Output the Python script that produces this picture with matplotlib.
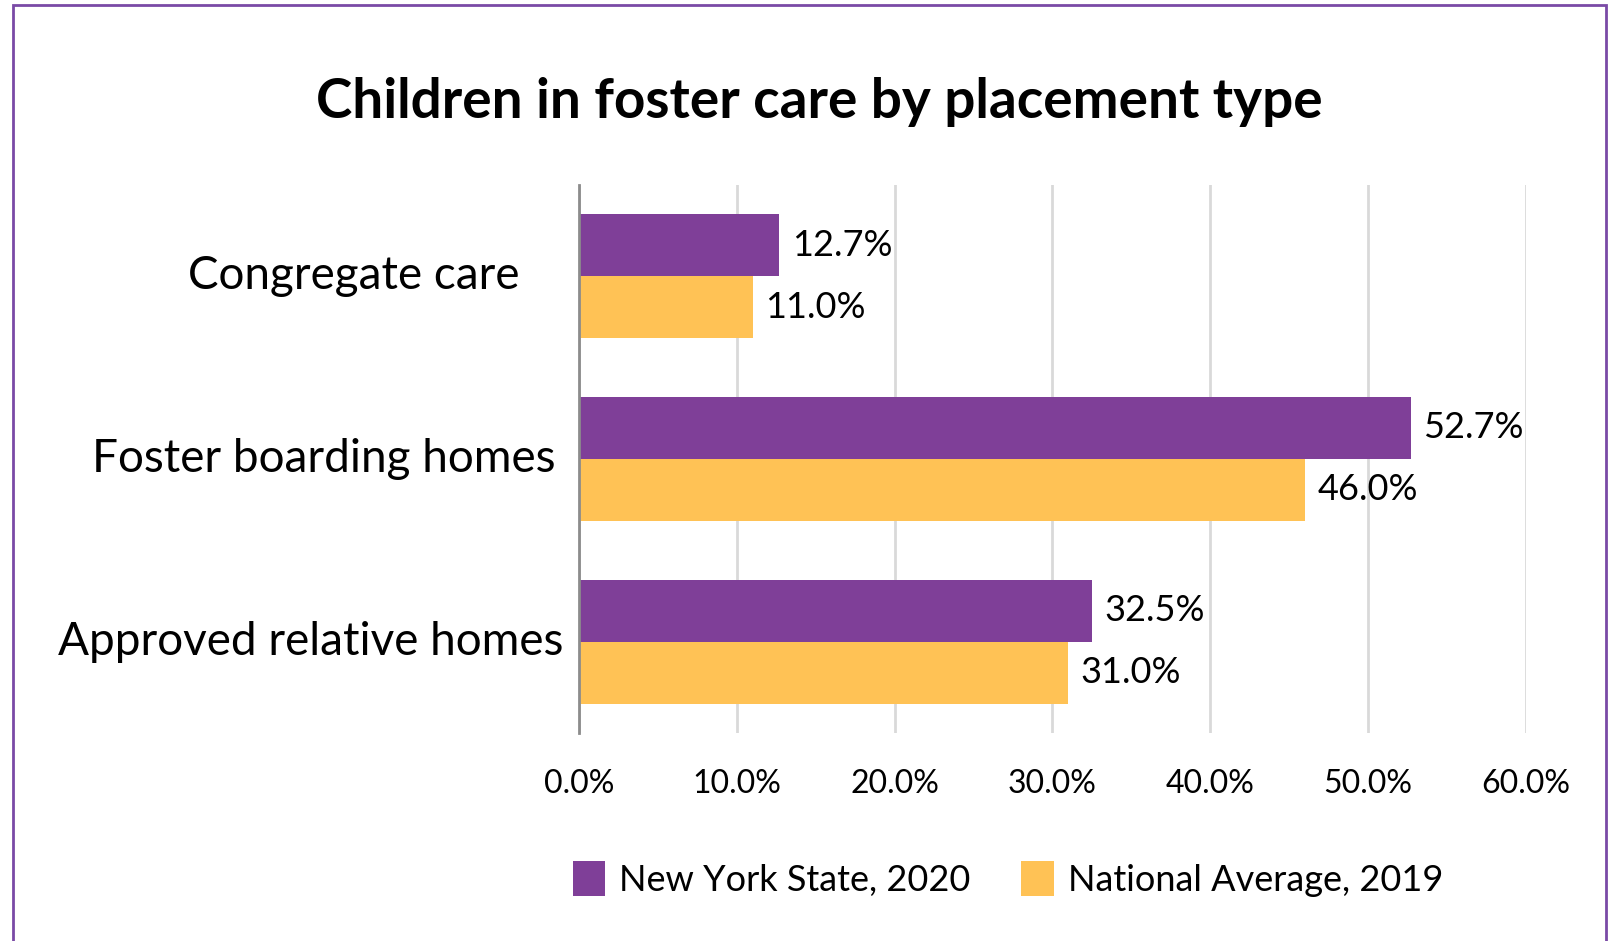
import matplotlib.pyplot as plt
from matplotlib.patches import Rectangle

# Data
categories = ["Congregate care", "Foster boarding homes", "Approved relative homes"]
ny_2020 = [12.7, 52.7, 32.5]
national_2019 = [11.0, 46.0, 31.0]
series_names = ["New York State, 2020", "National Average, 2019"]
xticks = [0, 10, 20, 30, 40, 50, 60]

purple = "#7f3f98"
yellow = "#ffc255"

plt.rcParams['font.family'] = ['Lato', 'DejaVu Sans']

fig = plt.figure(figsize=(16.13, 9.41), dpi=100)
ax = fig.add_axes([0.359, 0.221, 0.587, 0.5826])

h = 0.34
ypos = list(range(len(categories)))
ax.barh([y - h / 2 for y in ypos], ny_2020, height=h, color=purple, label=series_names[0])
ax.barh([y + h / 2 for y in ypos], national_2019, height=h, color=yellow, label=series_names[1])

for y, v in zip(ypos, ny_2020):
    ax.annotate(f"{v:.1f}%", (v, y - h / 2), xytext=(9, 0), textcoords="offset points",
                va="center", ha="left", fontsize=26)
for y, v in zip(ypos, national_2019):
    ax.annotate(f"{v:.1f}%", (v, y + h / 2), xytext=(9, 0), textcoords="offset points",
                va="center", ha="left", fontsize=26)

# category labels (not quite right-aligned in the original)
label_offsets = [-43, -17, -11]
ax.set_yticks([])
for y, name, off in zip(ypos, categories, label_offsets):
    ax.annotate(name, (0, y), xycoords=("axes fraction", "data"), xytext=(off, 0),
                textcoords="offset points", ha="right", va="center", fontsize=33)

ax.set_xlim(0, 60)
ax.set_ylim(2.5, -0.5)
ax.set_xticks(xticks)
ax.set_xticklabels([f"{t:.1f}%" for t in xticks], fontsize=23)
ax.tick_params(axis="x", length=0, pad=26)
ax.grid(axis="x", color="#d9d9d9", linewidth=2)
ax.set_axisbelow(True)
for s in ["top", "right", "bottom"]:
    ax.spines[s].set_visible(False)
ax.spines["left"].set_color("#8c8c8c")
ax.spines["left"].set_linewidth(2)
ax.spines["left"].set_zorder(3)

fig.text(0.508, 0.892, "Children in foster care by placement type", ha="center", va="center",
         fontsize=39.5, fontweight="bold")

fig.legend(loc="center", bbox_to_anchor=(0.625, 0.066), ncol=2, frameon=False, fontsize=26,
           handlelength=0.9, handleheight=1.1, handletextpad=0.4, columnspacing=1.4)

# purple frame around the chart
fig.patches.append(Rectangle((13 / 1613, -0.05), (1606 - 13) / 1613, 1 - 5 / 941 + 0.05,
                             transform=fig.transFigure, fill=False, edgecolor="#7a4aa6",
                             linewidth=2))

fig.savefig("out.png", dpi=100, facecolor="white")
